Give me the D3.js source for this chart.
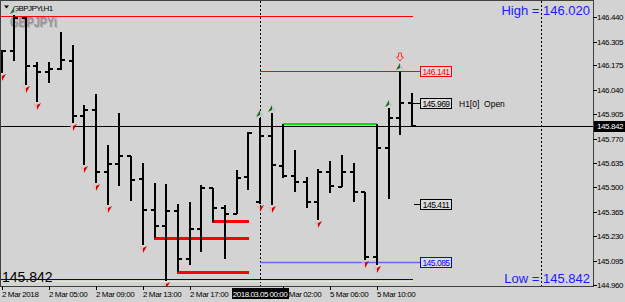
<!DOCTYPE html>
<html>
<head>
<meta charset="utf-8">
<script src="https://cdn.jsdelivr.net/npm/d3@7"></script>
<style>
  body { margin: 0; background: #d3d3d3; }
  svg  { display: block; }
  text { font-family: "Liberation Sans", Arial, sans-serif; }
</style>
</head>
<body>
<svg width="625" height="302"></svg>
<script>
const times = [
  '2018.03.02 01:00', '2018.03.02 02:00', '2018.03.02 03:00', '2018.03.02 04:00',
  '2018.03.02 05:00', '2018.03.02 06:00', '2018.03.02 07:00', '2018.03.02 08:00',
  '2018.03.02 09:00', '2018.03.02 10:00', '2018.03.02 11:00', '2018.03.02 12:00',
  '2018.03.02 13:00', '2018.03.02 14:00', '2018.03.02 15:00', '2018.03.02 16:00',
  '2018.03.02 17:00', '2018.03.02 18:00', '2018.03.02 19:00', '2018.03.02 20:00',
  '2018.03.02 21:00', '2018.03.02 22:00',
  '2018.03.05 00:00', '2018.03.05 01:00', '2018.03.05 02:00', '2018.03.05 03:00',
  '2018.03.05 04:00', '2018.03.05 05:00', '2018.03.05 06:00', '2018.03.05 07:00',
  '2018.03.05 08:00', '2018.03.05 09:00', '2018.03.05 10:00', '2018.03.05 11:00',
  '2018.03.05 12:00', '2018.03.05 13:00'
];

const open  = [146.245, 146.254, 146.436, 146.171, 146.138, 146.154, 146.198, 145.894, 145.928, 145.585,
               145.629, 145.673, 145.546, 145.375, 145.286, 145.369, 145.104, 145.270, 145.496, 145.386,
               145.353, 145.557, 145.419, 145.784, 145.618, 145.563, 145.530, 145.419, 145.585, 145.502,
               145.585, 145.474, 145.115, 145.718, 145.883, 145.969];
const high  = [146.259, 146.453, 146.442, 146.193, 146.193, 146.359, 146.287, 145.955, 146.016, 145.734,
               145.911, 145.673, 145.635, 145.524, 145.518, 145.408, 145.419, 145.513, 145.496, 145.402,
               145.596, 145.806, 145.883, 145.911, 145.850, 145.706, 145.557, 145.601, 145.646, 145.679,
               145.635, 145.474, 145.850, 145.939, 146.141, 146.020];
const low   = [146.132, 146.198, 146.066, 145.972, 146.077, 146.149, 145.856, 145.624, 145.524, 145.402,
               145.507, 145.425, 145.181, 145.220, 144.982, 145.032, 145.071, 145.143, 145.309, 145.104,
               145.353, 145.485, 145.411, 145.402, 145.552, 145.474, 145.386, 145.320, 145.469, 145.502,
               145.419, 145.098, 145.071, 145.436, 145.789, 145.842];
const close = [146.254, 146.436, 146.171, 146.138, 146.154, 146.204, 145.894, 145.928, 145.585, 145.629,
               145.673, 145.541, 145.375, 145.286, 145.369, 145.104, 145.270, 145.496, 145.386, 145.353,
               145.552, 145.800, 145.784, 145.624, 145.563, 145.530, 145.419, 145.585, 145.507, 145.585,
               145.474, 145.115, 145.718, 145.883, 145.966, 145.842];

// fractal-like markers (bar times)
const downMarks = ['2018.03.02 01:00', '2018.03.02 03:00', '2018.03.02 04:00', '2018.03.02 07:00',
                   '2018.03.02 08:00', '2018.03.02 09:00', '2018.03.02 10:00', '2018.03.02 13:00',
                   '2018.03.02 15:00', '2018.03.05 00:00', '2018.03.05 01:00', '2018.03.05 05:00',
                   '2018.03.05 09:00', '2018.03.05 10:00'];
const upMarks   = ['2018.03.02 02:00', '2018.03.05 00:00', '2018.03.05 01:00', '2018.03.05 11:00',
                   '2018.03.05 12:00'];
const signalMark = '2018.03.05 12:00';

// axis values
const yTicks     = [146.440, 146.305, 146.175, 146.040, 145.905, 145.770, 145.635, 145.500,
                    145.365, 145.230, 145.095, 144.960];
const tickTimes  = ['2018.03.02 01:00', '2018.03.02 05:00', '2018.03.02 09:00', '2018.03.02 13:00',
                    '2018.03.02 17:00', '2018.03.05 02:00', '2018.03.05 06:00', '2018.03.05 10:00'];
const tickLabels = ['2 Mar 2018', '2 Mar 05:00', '2 Mar 09:00', '2 Mar 13:00',
                    '2 Mar 17:00', '5 Mar 02:00', '5 Mar 06:00', '5 Mar 10:00'];
const separators = ['2018.03.05 00:00', '2018.03.06 00:00'];
const crossTime  = '2018.03.05 00:00';

// levels
const bid        = 145.842;
const dayHigh    = 146.020;
const topLine    = 146.447;
const bottomLine = 144.993;
const resistance = 146.141;
const support    = 145.085;
const midLevel   = 145.411;
const h1Open     = 145.969;
const doubleTop  = 145.850;
const doubleTopFrom = '2018.03.05 02:00', doubleTopTo = '2018.03.05 10:00';
const lowZones     = [145.220, 145.032, 145.315];
const lowZoneFrom  = ['2018.03.02 14:00', '2018.03.02 16:00', '2018.03.02 19:00'];
const lowZoneTo    = '2018.03.02 22:00';

const parseT = d3.timeParse('%Y.%m.%d %H:%M');
function barIndex (t) {
  let i = times.indexOf(t);
  if (i >= 0) return i;
  return times.length - 1 + (parseT(t) - parseT(times[times.length - 1])) / 36e5;
}

function draw () {
  let svg = d3.select('svg');
  const fmt = d3.format('.3f');

  const left = 1, right = 593, top = 1, bottom = 286;

  let x = d3.scaleLinear().domain([0, 50]).range([2.3, 2.3 + 50 * 11.71]);
  let y = d3.scaleLinear().domain([144.955, 146.525]).range([bottom, 2]);

  const X  = i => Math.round(x(i));
  const Y  = v => Math.round(y(v));
  const last = times.length - 1;

  svg.append('rect').attr('width', 625).attr('height', 302).attr('fill', '#d3d3d3');

  svg.append('clipPath').attr('id', 'plot')
    .append('rect').attr('x', left).attr('y', top).attr('width', right - left).attr('height', bottom - top);

  let plot = svg.append('g').attr('clip-path', 'url(#plot)');

  // watermark + title
  plot.append('text')
    .attr('x', 11).attr('y', 28)
    .attr('font-size', 14).attr('font-weight', 'bold')
    .attr('textLength', 47).attr('lengthAdjust', 'spacingAndGlyphs')
    .attr('fill', '#b8b8b8')
    .text('GBPJPYi');
  plot.append('text')
    .attr('x', 10).attr('y', 27)
    .attr('font-size', 14).attr('font-weight', 'bold')
    .attr('textLength', 47).attr('lengthAdjust', 'spacingAndGlyphs')
    .attr('fill', '#959595')
    .text('GBPJPYi');

  plot.append('path').attr('d', 'M4,5.5 L9,5.5 L6.5,8.5 Z').attr('fill', '#000');
  plot.append('text')
    .attr('x', 13).attr('y', 10.5)
    .attr('font-size', 8).attr('letter-spacing', -0.6)
    .attr('fill', '#000')
    .text('GBPJPYi,H1');

  // separators
  plot.selectAll('.sep').data(separators).enter().append('line')
    .attr('x1', d => X(barIndex(d)) + 0.5).attr('x2', d => X(barIndex(d)) + 0.5)
    .attr('y1', top).attr('y2', bottom)
    .attr('stroke', '#000').attr('stroke-dasharray', '2,2');

  // horizontal levels
  plot.append('line')
    .attr('x1', left).attr('x2', X(last) + 1)
    .attr('y1', Y(topLine) + 0.5).attr('y2', Y(topLine) + 0.5)
    .attr('stroke', '#ff0000');

  plot.append('line')
    .attr('x1', X(barIndex(crossTime))).attr('x2', 420)
    .attr('y1', Y(resistance) + 0.5).attr('y2', Y(resistance) + 0.5)
    .attr('stroke', '#ff0000');

  plot.append('line')
    .attr('x1', X(barIndex(crossTime))).attr('x2', 420)
    .attr('y1', Y(support) + 0.5).attr('y2', Y(support) + 0.5)
    .attr('stroke', '#6666ff').attr('stroke-width', 1.5);

  plot.append('line')
    .attr('x1', X(last) + 2).attr('x2', 420)
    .attr('y1', Y(midLevel) + 0.5).attr('y2', Y(midLevel) + 0.5)
    .attr('stroke', '#000');

  plot.append('line')
    .attr('x1', X(last)).attr('x2', 420)
    .attr('y1', Y(h1Open) + 0.5).attr('y2', Y(h1Open) + 0.5)
    .attr('stroke', '#000');

  plot.append('line')
    .attr('x1', left).attr('x2', X(last) + 1)
    .attr('y1', Y(bottomLine) + 2.5).attr('y2', Y(bottomLine) + 2.5)
    .attr('stroke', '#ece6cc');

  plot.append('line')
    .attr('x1', left).attr('x2', X(last) + 1)
    .attr('y1', Y(bottomLine) + 0.5).attr('y2', Y(bottomLine) + 0.5)
    .attr('stroke', '#000080');

  // bid line
  plot.append('line')
    .attr('x1', left).attr('x2', right)
    .attr('y1', Y(bid) + 0.5).attr('y2', Y(bid) + 0.5)
    .attr('stroke', '#000');

  // double top
  plot.append('line')
    .attr('x1', X(barIndex(doubleTopFrom))).attr('x2', X(barIndex(doubleTopTo)))
    .attr('y1', Y(doubleTop)).attr('y2', Y(doubleTop))
    .attr('stroke', '#00e000').attr('stroke-width', 2);

  // low zones
  plot.selectAll('.zone').data(lowZones).enter().append('line')
    .attr('x1', (d, i) => X(barIndex(lowZoneFrom[i])) - 1)
    .attr('x2', X(barIndex(lowZoneTo)) + 1)
    .attr('y1', d => Y(d) + 0.5).attr('y2', d => Y(d) + 0.5)
    .attr('stroke', '#ff0000').attr('stroke-width', 3);

  // OHLC bars
  let bar = plot.selectAll('.bar').data(times).enter().append('g').attr('class', 'bar')
    .attr('stroke', '#000').attr('stroke-width', 2);

  bar.append('line')
    .attr('x1', (d, i) => X(i)).attr('x2', (d, i) => X(i))
    .attr('y1', (d, i) => Y(high[i])).attr('y2', (d, i) => Y(low[i]));
  bar.append('line')
    .attr('x1', (d, i) => X(i) - 4).attr('x2', (d, i) => X(i))
    .attr('y1', (d, i) => Y(open[i])).attr('y2', (d, i) => Y(open[i]));
  bar.append('line')
    .attr('x1', (d, i) => X(i)).attr('x2', (d, i) => X(i) + 4)
    .attr('y1', (d, i) => Y(close[i])).attr('y2', (d, i) => Y(close[i]));

  // markers
  let down = plot.selectAll('.down').data(downMarks).enter().append('g')
    .attr('transform', d => {
      let i = barIndex(d);
      return `translate(${X(i)}, ${Y(low[i]) + 1})`;
    });
  down.append('path').attr('d', 'M-4,0 L0,2 L0,7 Z').attr('fill', '#ecb4b4');
  down.append('path').attr('d', 'M4,0 L0,2 L0,7 Z').attr('fill', '#d00000');

  let up = plot.selectAll('.up').data(upMarks).enter().append('g')
    .attr('transform', d => {
      let i = barIndex(d);
      return `translate(${X(i)}, ${Y(high[i]) - 1})`;
    });
  up.append('path').attr('d', 'M-4,0 L0,-2 L0,-7 Z').attr('fill', '#1b6b1b');
  up.append('path').attr('d', 'M4,0 L0,-2 L0,-7 Z').attr('fill', '#a9c9c9');

  let si = barIndex(signalMark);
  plot.append('path')
    .attr('transform', `translate(${X(si)}, ${Y(high[si]) - 18})`)
    .attr('d', 'M-1.5,0 L1.5,0 L1.5,4 L3.5,4 L0,8 L-3.5,4 L-1.5,4 Z')
    .attr('fill', '#f4d4d4').attr('stroke', '#ff3030').attr('stroke-width', 1);

  // price tags
  const tags = [
    { v: resistance, c: '#ff0000' },
    { v: h1Open,     c: '#000' },
    { v: midLevel,   c: '#000' },
    { v: support,    c: '#0000ff' }
  ];
  let tag = plot.selectAll('.tag').data(tags).enter().append('g');
  tag.append('rect')
    .attr('x', 420.5).attr('y', d => Y(d.v) - 4.5)
    .attr('width', 31).attr('height', 10)
    .attr('fill', '#dcdcdc').attr('stroke', d => d.c);
  tag.append('text')
    .attr('x', 436).attr('y', d => Y(d.v) + 3.5)
    .attr('text-anchor', 'middle')
    .attr('font-size', 8.5).attr('letter-spacing', -0.5)
    .attr('fill', d => d.c)
    .text(d => fmt(d.v));

  plot.append('text')
    .attr('x', 459).attr('y', Y(h1Open) + 3.5)
    .attr('font-family', '"Liberation Mono", monospace')
    .attr('font-size', 8.5)
    .attr('fill', '#000')
    .attr('xml:space', 'preserve')
    .text('H1[0]  Open');

  // corner texts
  plot.append('text')
    .attr('x', 590).attr('y', 15)
    .attr('text-anchor', 'end').attr('font-size', 13)
    .attr('fill', '#1a1aff')
    .text('High = ' + fmt(dayHigh));

  plot.append('text')
    .attr('x', 590).attr('y', 283)
    .attr('text-anchor', 'end').attr('font-size', 13)
    .attr('fill', '#1a1aff')
    .text('Low = ' + fmt(bid));

  plot.append('text')
    .attr('x', 2).attr('y', 282)
    .attr('font-size', 14)
    .attr('fill', '#000')
    .text(fmt(bid));

  // frame
  svg.append('rect')
    .attr('x', left - 0.5).attr('y', top - 0.5)
    .attr('width', right - left + 1).attr('height', bottom - top + 1)
    .attr('fill', 'none').attr('stroke', '#404040');

  // right price axis
  let yAxis = svg.append('g');
  yAxis.selectAll('line').data(yTicks).enter().append('line')
    .attr('x1', right).attr('x2', right + 4)
    .attr('y1', d => Y(d) + 0.5).attr('y2', d => Y(d) + 0.5)
    .attr('stroke', '#000');
  yAxis.selectAll('text').data(yTicks).enter().append('text')
    .attr('x', 597).attr('y', d => Y(d) + 3)
    .attr('font-size', 8).attr('letter-spacing', -0.4)
    .attr('fill', '#000')
    .text(d => fmt(d));

  yAxis.append('rect')
    .attr('x', 594).attr('y', Y(bid) - 5)
    .attr('width', 31).attr('height', 11)
    .attr('fill', '#000');
  yAxis.append('text')
    .attr('x', 597).attr('y', Y(bid) + 3)
    .attr('font-size', 8).attr('letter-spacing', -0.4)
    .attr('fill', '#fff')
    .text(fmt(bid));

  // bottom time axis
  let xAxis = svg.append('g');
  xAxis.selectAll('line').data(tickTimes).enter().append('line')
    .attr('x1', d => X(barIndex(d)) + 0.5).attr('x2', d => X(barIndex(d)) + 0.5)
    .attr('y1', bottom).attr('y2', bottom + 4)
    .attr('stroke', '#000');
  xAxis.selectAll('text').data(tickTimes).enter().append('text')
    .attr('x', d => X(barIndex(d)))
    .attr('y', 297)
    .attr('font-size', 8).attr('letter-spacing', -0.4)
    .attr('fill', '#000')
    .text((d, i) => tickLabels[i]);

  let cx = X(barIndex(crossTime));
  xAxis.append('rect')
    .attr('x', cx - 28).attr('y', 288)
    .attr('width', 57).attr('height', 11)
    .attr('fill', '#000');
  xAxis.append('text')
    .attr('x', cx).attr('y', 297)
    .attr('text-anchor', 'middle')
    .attr('font-size', 8).attr('letter-spacing', -0.5)
    .attr('fill', '#fff')
    .text(crossTime);
}

draw();
</script>
</body>
</html>
